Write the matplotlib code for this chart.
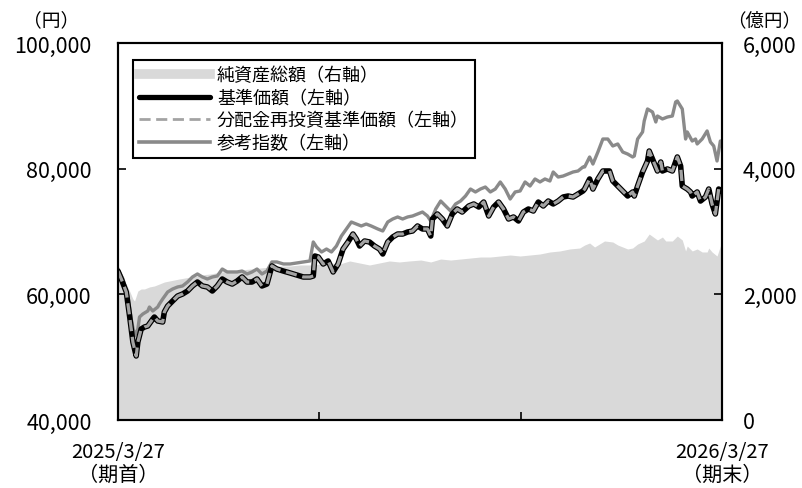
import matplotlib
matplotlib.use("Agg")
import matplotlib.pyplot as plt
from matplotlib.lines import Line2D
from matplotlib.ticker import FuncFormatter, FixedLocator

plt.rcParams['font.family'] = ['Noto Sans CJK JP', 'DejaVu Sans']

# ---- data -------------------------------------------------------------
# days elapsed since 2025/3/27 (period start) -> 2026/3/27 = day 365
nav_days = [0, 2, 5, 7, 9, 11, 12, 14, 16, 18, 21, 22, 24, 27, 28, 30, 33, 36, 39, 42,
            45, 48, 51, 54, 57, 60, 63, 66, 69, 72, 75, 78, 81, 84, 87, 90, 93, 96, 100,
            104, 108, 112, 116, 118, 119, 121, 124, 127, 130, 133, 136, 139, 142, 144,
            146, 149, 152, 155, 158, 160, 163, 166, 169, 172, 175, 178, 181, 184, 187,
            189, 190, 193, 196, 199, 202, 205, 208, 212, 215, 218, 221, 224, 227, 230,
            233, 236, 239, 242, 245, 248, 251, 254, 257, 260, 263, 266, 269, 272, 275,
            278, 281, 282, 285, 287, 290, 293, 297, 299, 302, 305, 308, 311, 312, 314,
            317, 320, 321, 323, 326, 328, 329, 332, 335, 338, 340, 341, 344, 346, 347,
            350, 352, 355, 357, 359, 361, 363, 365]
# 基準価額 (円)
nav = [63700, 62440, 60370, 56550, 52410, 50190, 52410, 54480, 54800, 54960, 56070,
       56390, 55760, 55600, 57190, 58140, 58940, 59730, 60050, 60530, 61330, 61960,
       61330, 61170, 60530, 61330, 62440, 61960, 61640, 62120, 62760, 61960, 61960,
       62440, 61330, 61640, 64510, 64030, 63700, 63400, 63080, 62760, 62760, 62920,
       66100, 65940, 64830, 65310, 63560, 64830, 67210, 68330, 69600, 68810, 67690,
       68490, 68330, 67690, 67210, 66420, 68330, 69120, 69600, 69600, 69920, 70080,
       70880, 70400, 70400, 69280, 71990, 72790, 71990, 70880, 72790, 73580, 73100,
       74060, 74380, 73900, 74690, 72470, 73900, 74690, 73580, 71990, 72310, 71670,
       73100, 73580, 73260, 74690, 74060, 74850, 74380, 74850, 75490, 75650, 75490,
       75970, 76450, 76760, 78360, 76760, 78360, 79630, 79630, 78040, 77240, 76450,
       75650, 76290, 75650, 77240, 79470, 81220, 82810, 81540, 79630, 81060, 79630,
       79950, 79630, 81860, 80420, 77240, 76760, 76290, 75650, 76290, 74850, 75490,
       76760, 74380, 72790, 76760, 76450]
# 分配金再投資基準価額 (円) : no distributions paid during the period
reinvested_nav = list(nav)

index_days = [0, 3, 6, 8, 10, 12, 13, 15, 18, 19, 21, 24, 25, 27, 30, 33, 36, 39, 42,
              45, 48, 51, 54, 57, 60, 63, 66, 69, 72, 75, 78, 81, 84, 87, 90, 93, 96,
              100, 104, 108, 112, 116, 118, 120, 123, 126, 129, 132, 135, 138, 141, 144,
              147, 150, 153, 157, 160, 163, 166, 169, 172, 175, 178, 181, 184, 187, 189,
              192, 195, 198, 201, 204, 207, 210, 213, 216, 219, 222, 225, 228, 231, 234,
              237, 240, 243, 246, 249, 252, 255, 258, 261, 263, 266, 269, 272, 275, 278,
              281, 282, 285, 287, 290, 293, 296, 299, 302, 305, 308, 311, 312, 314, 317,
              318, 320, 323, 325, 326, 329, 332, 335, 337, 338, 341, 343, 344, 347, 349,
              350, 353, 356, 358, 360, 362, 364, 365]
# 参考指数 (円換算)
ref_index = [64030, 62440, 59730, 56070, 53370, 54480, 56390, 56870, 57350, 57980,
             57350, 57980, 58460, 59260, 60370, 60850, 61170, 61330, 61960, 62760,
             63240, 62760, 62440, 62760, 62920, 64030, 63560, 63560, 63560, 63710,
             63240, 63560, 64030, 63240, 63710, 65150, 65150, 64830, 64830, 64990,
             65150, 65310, 68330, 67530, 66740, 67210, 66740, 67690, 69280, 70400,
             71510, 71190, 70880, 71190, 70880, 70400, 70080, 71510, 71990, 72310,
             71990, 72310, 72470, 72790, 73100, 72470, 71670, 73580, 74850, 74060,
             73260, 74380, 74850, 75650, 76760, 76290, 76760, 77080, 76290, 76760,
             77880, 76760, 75170, 76290, 76450, 77880, 77240, 78360, 77880, 78360,
             78040, 79470, 78670, 78830, 79150, 79470, 79630, 80270, 80270, 81860,
             80740, 82650, 84720, 84720, 83610, 83930, 82650, 82330, 81860, 82020,
             84720, 85840, 87590, 89500, 89020, 87430, 88380, 87910, 88220, 88380,
             90610, 90770, 89500, 84720, 85840, 84400, 84720, 83930, 84720, 86000,
             84240, 83610, 81220, 84400, 84400]

assets_days = [0, 2, 5, 7, 9, 10, 12, 14, 16, 19, 22, 25, 28, 31, 34, 37, 44, 50, 56,
               62, 68, 74, 80, 86, 92, 98, 104, 110, 116, 122, 128, 134, 140, 146, 152,
               158, 164, 170, 176, 183, 189, 195, 201, 207, 213, 219, 225, 231, 237,
               243, 249, 255, 261, 267, 273, 279, 282, 285, 288, 294, 299, 302, 308,
               311, 314, 318, 321, 326, 329, 331, 335, 338, 341, 343, 344, 347, 350,
               353, 356, 357, 359, 362, 364, 365]
# 純資産総額 (億円)
net_assets = [2324, 2276, 2164, 2053, 1926, 1894, 2053, 2085, 2085, 2117, 2133, 2164,
              2196, 2212, 2228, 2244, 2276, 2308, 2324, 2355, 2371, 2387, 2403, 2419,
              2435, 2451, 2451, 2467, 2467, 2483, 2499, 2483, 2531, 2499, 2467, 2499,
              2531, 2515, 2531, 2546, 2515, 2562, 2546, 2562, 2578, 2594, 2594, 2610,
              2626, 2610, 2626, 2642, 2674, 2690, 2722, 2737, 2785, 2817, 2753, 2849,
              2833, 2785, 2722, 2737, 2801, 2849, 2960, 2865, 2912, 2849, 2849, 2928,
              2865, 2690, 2769, 2690, 2722, 2674, 2674, 2737, 2674, 2610, 2769, 2801]

x_labels = ["2025/3/27\n（期首）", "2026/3/27\n（期末）"]
legend_labels = ["純資産総額（右軸）", "基準価額（左軸）",
                 "分配金再投資基準価額（左軸）", "参考指数（左軸）"]

# ---- colours / styles ---------------------------------------------------
AREA = "#d9d9d9"
INDEX = "#8a8a8a"
DASH = "#a3a3a3"

fig = plt.figure(figsize=(8.02, 4.89), dpi=100)
ax = fig.add_axes([118 / 802, 68 / 489, 604 / 802, 377 / 489])
ax2 = ax.twinx()

# net assets area on the right axis, kept behind the price lines
ax2.fill_between(assets_days, 0, net_assets, color=AREA, lw=0)
ax2.set_ylim(0, 6000)
ax.set_zorder(ax2.get_zorder() + 1)
ax.patch.set_visible(False)

ax.plot(index_days, ref_index, color=INDEX, lw=2.4, solid_joinstyle="round")
ax.plot(nav_days, nav, color="black", lw=4.0, solid_joinstyle="round",
        solid_capstyle="round")
ax.plot(nav_days, reinvested_nav, color=DASH, lw=2.3, dashes=(3.5, 1.8),
        dash_joinstyle="round")

ax.set_xlim(0, 365)
ax.set_ylim(40000, 100000)

comma = FuncFormatter(lambda v, p: f"{int(v):,}")
ax.set_yticks([40000, 60000, 80000, 100000])
ax.yaxis.set_major_formatter(comma)
ax2.set_yticks([0, 2000, 4000, 6000])
ax2.yaxis.set_major_formatter(comma)

ax.set_xticks([0, 365])
ax.set_xticklabels(x_labels, linespacing=1.15)
ax.xaxis.set_minor_locator(FixedLocator([365 / 3, 730 / 3]))
ax.tick_params(axis="x", which="major", length=0, pad=15, labelsize=14.5)
ax.tick_params(axis="x", which="minor", direction="in", length=6, width=1.2)
ax.tick_params(axis="y", direction="in", length=6, width=1.2, pad=19, labelsize=15.5)
ax2.tick_params(axis="y", direction="in", length=6, width=1.2, pad=15, labelsize=15.5)

for a in (ax, ax2):
    for s in a.spines.values():
        s.set_linewidth(1.5)
        s.set_color("black")

fig.text(51 / 802, 1 - 21 / 489, "（円）", ha="center", va="center", fontsize=13.5)
fig.text(764 / 802, 1 - 21 / 489, "（億円）", ha="center", va="center", fontsize=13.3)

handles = [
    Line2D([], [], color=AREA, lw=7),
    Line2D([], [], color="black", lw=3.8, solid_capstyle="round"),
    Line2D([], [], color=DASH, lw=2.0, dashes=(4, 2)),
    Line2D([], [], color=INDEX, lw=2.6),
]
leg = ax.legend(handles, legend_labels, loc="upper left",
                bbox_to_anchor=(15 / 604, 360 / 377), borderaxespad=0,
                fontsize=13, frameon=True, fancybox=False, edgecolor="black",
                framealpha=1, handlelength=3.9, handletextpad=0.4,
                labelspacing=0.25, borderpad=0.35)
leg.get_frame().set_linewidth(1.5)

fig.savefig("out.png", dpi=100)
